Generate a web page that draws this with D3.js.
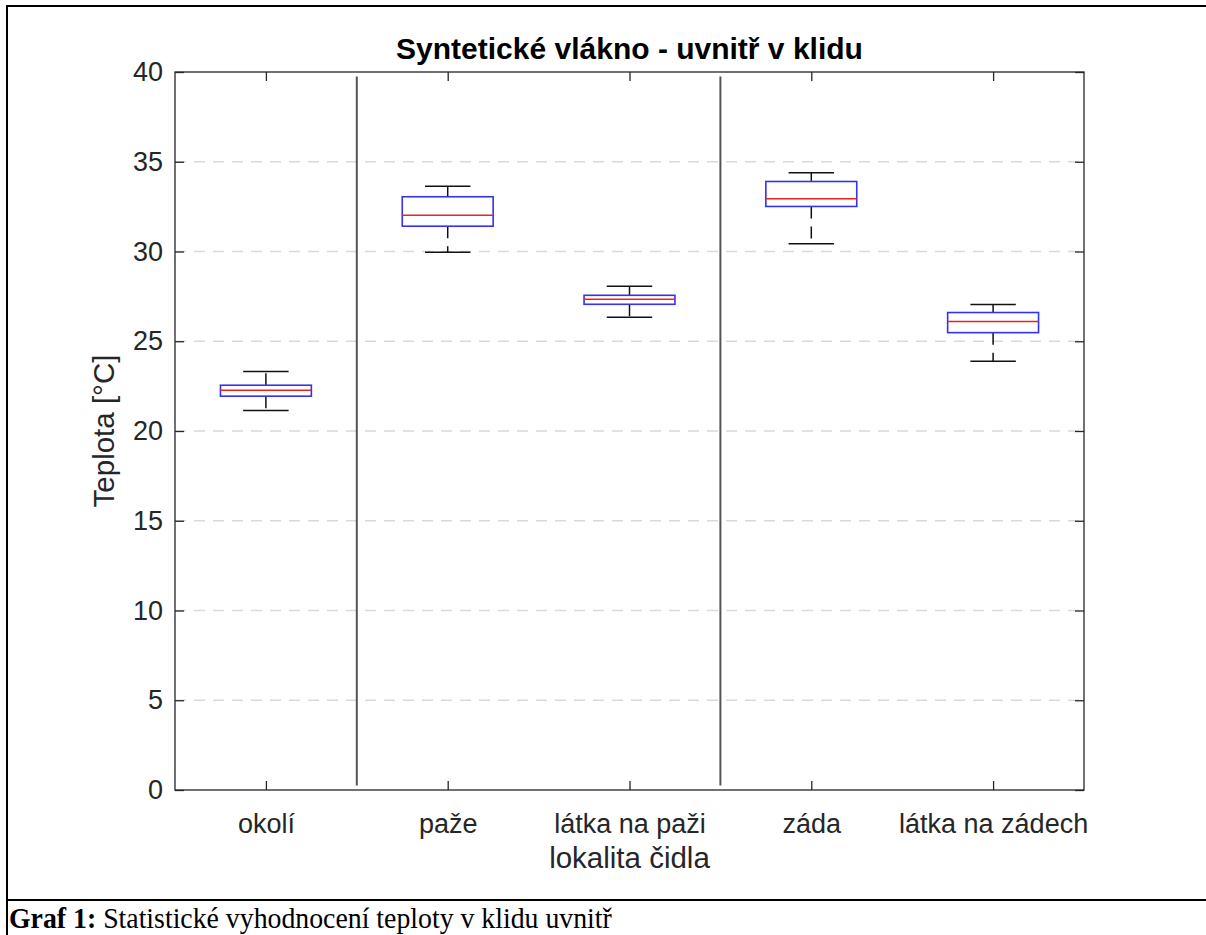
<!DOCTYPE html>
<html>
<head>
<meta charset="utf-8">
<script src="https://cdn.jsdelivr.net/npm/d3@7"></script>
<style>
  html, body { margin: 0; padding: 0; background: #fff; }
  svg { display: block; }
</style>
</head>
<body>
<svg id="chart" width="1206" height="935"></svg>
<script>
// ---- data ----
const categories = ["okolí", "paže", "látka na paži", "záda", "látka na zádech"];
const whiskerLow  = [21.14, 29.96, 26.34, 30.43, 23.89];
const q1          = [21.94, 31.41, 27.06, 32.51, 25.48];
const median      = [22.27, 32.02, 27.34, 32.94, 26.10];
const q3          = [22.55, 33.05, 27.56, 33.90, 26.60];
const whiskerHigh = [23.31, 33.64, 28.07, 34.39, 27.05];
const yTicks = [0, 5, 10, 15, 20, 25, 30, 35, 40];
const dividerPositions = [1.5, 3.5];
const titleText = "Syntetické vlákno - uvnitř v klidu";
const xLabelText = "lokalita čidla";
const yLabelText = "Teplota [°C]";
const captionBold = "Graf 1:";
const captionText = " Statistické vyhodnocení teploty v klidu uvnitř";

const svg = d3.select("#chart");
const W = 1206, H = 935;
const m = { left: 175, right: 1084, top: 72, bottom: 790 };

// frame of the figure (document box)
svg.append("line").attr("x1", 7).attr("x2", W).attr("y1", 6).attr("y2", 6)
  .attr("stroke", "#000").attr("stroke-width", 2);
svg.append("line").attr("x1", 7).attr("x2", 7).attr("y1", 5).attr("y2", H)
  .attr("stroke", "#000").attr("stroke-width", 2);
svg.append("line").attr("x1", 7).attr("x2", W).attr("y1", 900).attr("y2", 900)
  .attr("stroke", "#000").attr("stroke-width", 2);

const x = d3.scaleLinear().domain([0.5, categories.length + 0.5]).range([m.left, m.right]);
const y = d3.scaleLinear().domain([0, 40]).range([m.bottom, m.top]);

const font = "'Liberation Sans', Arial, Helvetica, sans-serif";
const txtColor = "#262626";
const axisColor = "#262626";

// grid
svg.append("g").selectAll("line").data(yTicks.filter(t => t > 0 && t < 40)).join("line")
  .attr("x1", m.left).attr("x2", m.right)
  .attr("y1", d => y(d)).attr("y2", d => y(d))
  .attr("stroke", "#d9d9d9").attr("stroke-width", 1.3)
  .attr("stroke-dasharray", "11,8");

// dividers
svg.append("g").selectAll("line").data(dividerPositions).join("line")
  .attr("x1", d => x(d)).attr("x2", d => x(d))
  .attr("y1", y(39.75)).attr("y2", y(0.25))
  .attr("stroke", "#555").attr("stroke-width", 2);

// axes
const tickLen = 9;
const yAxisL = d3.axisLeft(y).tickValues(yTicks).tickSize(-tickLen).tickPadding(12);
const yAxisR = d3.axisRight(y).tickValues(yTicks).tickSize(-tickLen).tickFormat("");
const xAxisB = d3.axisBottom(x).tickValues(d3.range(1, categories.length + 1))
  .tickSize(-tickLen).tickPadding(24).tickFormat((d) => categories[d - 1]);
const xAxisT = d3.axisTop(x).tickValues(d3.range(1, categories.length + 1))
  .tickSize(-tickLen).tickFormat("");

function styleAxis(g) {
  g.select(".domain").attr("stroke", axisColor).attr("stroke-width", 1.3);
  g.selectAll(".tick line").attr("stroke", axisColor).attr("stroke-width", 1.3);
  g.selectAll(".tick text").attr("fill", txtColor).style("font-family", font).style("font-size", "27px");
}
svg.append("g").attr("transform", `translate(${m.left},0)`).call(yAxisL).call(styleAxis);
svg.append("g").attr("transform", `translate(${m.right},0)`).call(yAxisR).call(styleAxis);
svg.append("g").attr("transform", `translate(0,${m.bottom})`).call(xAxisB).call(styleAxis);
svg.append("g").attr("transform", `translate(0,${m.top})`).call(xAxisT).call(styleAxis);
svg.selectAll(".domain").attr("d", null);
// plot box
svg.append("rect").attr("x", m.left).attr("y", m.top)
  .attr("width", m.right - m.left).attr("height", m.bottom - m.top)
  .attr("fill", "none").attr("stroke", axisColor).attr("stroke-width", 1.3);

// boxes
const boxW = 0.5, capW = 0.25;
const g = svg.append("g");
categories.forEach((c, i) => {
  const cx = x(i + 1);
  const bw = x(1 + boxW / 2) - x(1 - boxW / 2);
  const cw = x(1 + capW / 2) - x(1 - capW / 2);
  // whiskers (dashed)
  g.append("line").attr("x1", cx).attr("x2", cx).attr("y1", y(q3[i])).attr("y2", y(whiskerHigh[i]))
    .attr("stroke", "#111").attr("stroke-width", 1.5).attr("stroke-dasharray", "12,8");
  g.append("line").attr("x1", cx).attr("x2", cx).attr("y1", y(q1[i])).attr("y2", y(whiskerLow[i]))
    .attr("stroke", "#111").attr("stroke-width", 1.5).attr("stroke-dasharray", "12,8");
  // caps
  [whiskerHigh[i], whiskerLow[i]].forEach(v => {
    g.append("line").attr("x1", cx - cw / 2).attr("x2", cx + cw / 2).attr("y1", y(v)).attr("y2", y(v))
      .attr("stroke", "#111").attr("stroke-width", 1.5);
  });
  // box
  g.append("rect").attr("x", cx - bw / 2).attr("y", y(q3[i]))
    .attr("width", bw).attr("height", y(q1[i]) - y(q3[i]))
    .attr("fill", "none").attr("stroke", "#3333ee").attr("stroke-width", 1.6);
  // median
  g.append("line").attr("x1", cx - bw / 2).attr("x2", cx + bw / 2).attr("y1", y(median[i])).attr("y2", y(median[i]))
    .attr("stroke", "#ee2222").attr("stroke-width", 1.4);
});

// title
svg.append("text").attr("x", (m.left + m.right) / 2).attr("y", 59)
  .attr("text-anchor", "middle").style("font-family", font).style("font-weight", "bold")
  .style("font-size", "30px").attr("fill", "#000").text(titleText);
// x label
svg.append("text").attr("x", (m.left + m.right) / 2).attr("y", 868)
  .attr("text-anchor", "middle").style("font-family", font)
  .style("font-size", "29.5px").attr("fill", txtColor).text(xLabelText);
// y label
svg.append("text").attr("transform", `translate(114,${(m.top + m.bottom) / 2}) rotate(-90)`)
  .attr("text-anchor", "middle").style("font-family", font)
  .style("font-size", "29.5px").attr("fill", txtColor).text(yLabelText);

// caption
const cap = svg.append("text").attr("transform", "translate(9,928) scale(1,1.08)")
  .style("font-family", "'Liberation Serif', 'Times New Roman', serif")
  .style("font-size", "27.8px").attr("fill", "#000");
cap.append("tspan").style("font-weight", "bold").text(captionBold);
cap.append("tspan").text(captionText);
</script>
</body>
</html>
